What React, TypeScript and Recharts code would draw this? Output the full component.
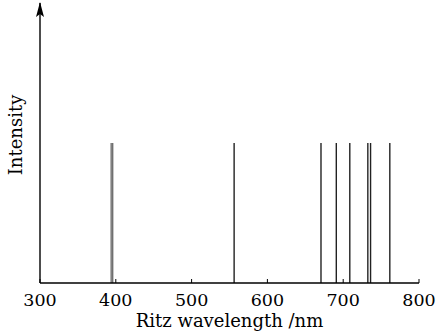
import React from 'react';
import { ComposedChart, Bar, XAxis, YAxis, ReferenceDot } from 'recharts';

const wavelengths = [394.0, 396.0, 556.2, 670.8, 691.0, 708.8, 732.6, 736.2, 761.6];
const intensities = [1, 1, 1, 1, 1, 1, 1, 1, 1];
const lineColors = ['#707070', '#707070', '#222', '#222', '#222', '#222', '#222', '#222', '#222'];
const xTicks = [300, 400, 500, 600, 700, 800];

const data = wavelengths.map((w, i) => ({ w, v: intensities[i], c: lineColors[i] }));

const FONT = '"DejaVu Serif", serif';

const LineShape = (p: any) => {
  const { x, y, width, height, payload } = p;
  const cx = x + width / 2;
  return <line x1={cx} x2={cx} y1={y} y2={y + height} stroke={payload.c} strokeWidth={1.4} />;
};

const Arrow = (p: any) => {
  const { cx, cy } = p;
  return <path d={`M${cx},${cy - 1} L${cx - 4},${cy + 14} L${cx},${cy + 11} L${cx + 4},${cy + 14} Z`} fill="#000" />;
};

const YLabel = () => {
  const cy = 135;
  const x = 22;
  return (
    <text x={x} y={cy} transform={`rotate(-90 ${x} ${cy})`} textAnchor="middle" fontFamily={FONT} fontSize={18} fill="#000">
      Intensity
    </text>
  );
};

export default function App() {
  return (
    <div style={{ position: 'absolute', left: 0, top: 0, background: '#fff' }}>
      <ComposedChart width={436} height={336} data={data} margin={{ top: 3, right: 17, bottom: 0, left: 0 }}>
        <XAxis
          dataKey="w"
          type="number"
          domain={[300, 800]}
          ticks={xTicks}
          interval={0}
          height={53}
          tickSize={-4}
          tickMargin={15}
          axisLine={{ stroke: '#000', strokeWidth: 1.4 }}
          tickLine={{ stroke: '#000', strokeWidth: 1 }}
          tick={{ fill: '#000', fontSize: 17.5, fontFamily: FONT }}
          label={{ value: 'Ritz wavelength /nm', position: 'insideBottom', offset: 9, fill: '#000', fontSize: 18, fontFamily: FONT }}
        />
        <YAxis
          type="number"
          domain={[0, 2]}
          width={40}
          tick={false}
          tickLine={false}
          axisLine={{ stroke: '#000', strokeWidth: 1.4 }}
          label={<YLabel />}
        />
        <Bar dataKey="v" barSize={2} shape={<LineShape />} isAnimationActive={false} />
        <ReferenceDot x={300} y={2} r={0} shape={<Arrow />} ifOverflow="visible" />
      </ComposedChart>
    </div>
  );
}
